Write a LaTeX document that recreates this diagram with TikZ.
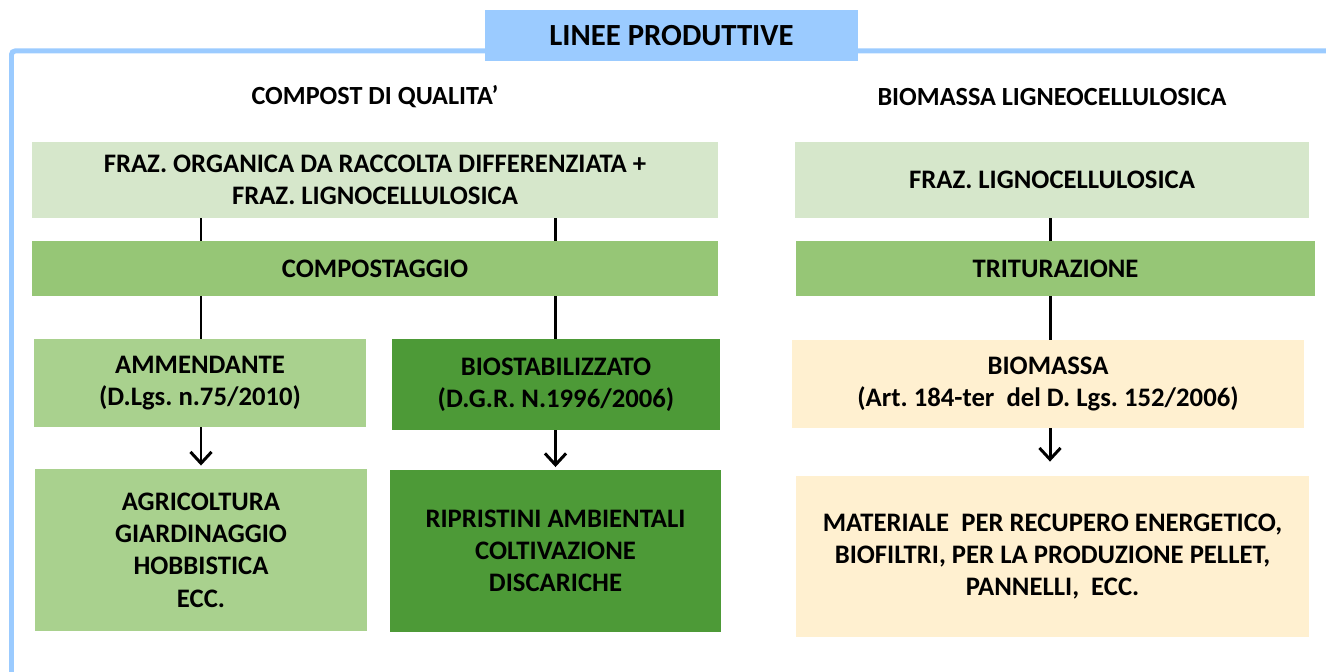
\documentclass[tikz,border=0pt]{standalone}
\usepackage{fontspec}
\setmainfont{Carlito}
\frenchspacing
\usetikzlibrary{arrows.meta,positioning}

\definecolor{cornice}{HTML}{9BCBFF}
\definecolor{verdechiaro}{HTML}{D6E7CB}
\definecolor{verdemedio}{HTML}{96C676}
\definecolor{verdetenue}{HTML}{A9D18E}
\definecolor{verdescuro}{HTML}{4D9A37}
\definecolor{crema}{HTML}{FFF0D0}

\begin{document}
\begin{tikzpicture}[x=0.02cm, y=-0.02cm, >={Straight Barb[length=6.5pt,width=12pt]},
    box/.style={align=center, inner sep=0pt, font=\bfseries\fontsize{15.2}{18.4}\selectfont},
    heading/.style={font=\bfseries\fontsize{14.9}{18.4}\selectfont},
    link/.style={line width=1.7pt},
    arrow/.style={link, ->, shorten >=1.5pt}]

  \useasboundingbox (0,0) rectangle (1326,672);
  \draw[cornice, line width=0.1cm, rounded corners=2pt] (1326,51) -- (11.5,51) -- (11.5,672);

  \node[box, fill=cornice, minimum width=7.46cm, minimum height=1.02cm,
        font=\bfseries\fontsize{17.5}{20}\selectfont] (titolo) at (671.5,35.5) {LINEE PRODUTTIVE};

  \node[heading] (compost) at (375,97) {COMPOST DI QUALITA’};
  \node[heading] (biomassa) at (1052,97) {BIOMASSA LIGNEOCELLULOSICA};

  % compost
  \node[box, fill=verdechiaro, minimum width=13.72cm, minimum height=1.52cm] (fraz) at (375,180)
       {FRAZ. ORGANICA DA RACCOLTA DIFFERENZIATA +\\FRAZ. LIGNOCELLULOSICA};
  \node[box, fill=verdemedio, minimum width=13.72cm, minimum height=1.1cm] (comp) at (375,268.5) {COMPOSTAGGIO};
  \node[box, fill=verdetenue, minimum width=6.64cm, minimum height=1.76cm] (amm) at (200,383)
       {AMMENDANTE\\(D.Lgs. n.75/2010)};
  \node[box, fill=verdescuro, minimum width=6.56cm, minimum height=1.82cm] (biost) at (556,384.5)
       {BIOSTABILIZZATO\\(D.G.R. N.1996/2006)};
  \node[box, fill=verdetenue, minimum width=6.64cm, minimum height=3.26cm] (agri) at (201,550)
       {AGRICOLTURA\\GIARDINAGGIO\\HOBBISTICA\\ECC.};
  \node[box, fill=verdescuro, minimum width=6.62cm, minimum height=3.24cm] (ripr) at (555.5,551)
       {RIPRISTINI AMBIENTALI\\COLTIVAZIONE\\DISCARICHE};

  % biomassa
  \node[box, fill=verdechiaro, minimum width=10.28cm, minimum height=1.52cm] (frazlig) at (1052,180)
       {FRAZ. LIGNOCELLULOSICA};
  \node[box, fill=verdemedio, minimum width=10.38cm, minimum height=1.1cm] (trit) at (1055.5,268.5) {TRITURAZIONE};
  \node[box, fill=crema, minimum width=10.24cm, minimum height=1.76cm] (biom) at (1048,384)
       {BIOMASSA\\(Art. 184-ter\ \ del D. Lgs. 152/2006)};
  \node[box, fill=crema, minimum width=10.26cm, minimum height=3.22cm] (mat) at (1052.5,556.5)
       {MATERIALE\ \ PER RECUPERO ENERGETICO,\\BIOFILTRI, PER LA PRODUZIONE PELLET,\\PANNELLI,\ \ ECC.};

  \draw[link] (fraz.south -| agri) -- (comp.north -| agri);
  \draw[link] (fraz.south -| ripr) -- (comp.north -| ripr);
  \draw[link] (comp.south -| agri) -- (amm.north -| agri);
  \draw[link] (comp.south -| ripr) -- (biost.north -| ripr);
  \draw[arrow] (amm.south -| agri) -- (agri.north);
  \draw[arrow] (biost.south -| ripr) -- (ripr.north);

  \draw[link] (frazlig.south -| 1050,0) -- (trit.north -| 1050,0);
  \draw[link] (trit.south -| 1050,0) -- (biom.north -| 1050,0);
  \draw[arrow, shorten >=8pt] (biom.south -| 1050,0) -- (mat.north -| 1050,0);
\end{tikzpicture}
\end{document}
